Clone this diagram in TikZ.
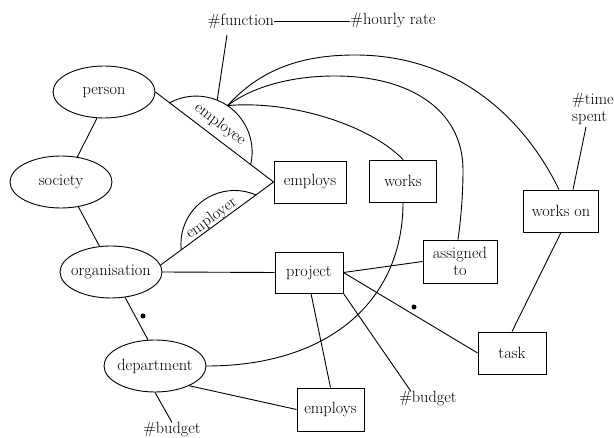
\documentclass[tikz,border=0pt]{standalone}
\usepackage{fontspec}
\usetikzlibrary{shapes.geometric}
\newcommand{\zc}[1]{\makebox[0pt]{#1}}
\begin{document}
\begin{tikzpicture}[x=1pt,y=-1pt,
  every node/.style={font=\fontsize{16.3pt}{17pt}\selectfont},
  ent/.style={ellipse,draw,line width=0.9pt,minimum width=102pt,minimum height=52pt,inner sep=0pt},
  rel/.style={rectangle,draw,line width=0.9pt,minimum height=42pt,inner sep=0pt},
  lbl/.style={inner sep=0pt},
  ln/.style={line width=0.9pt},
  dotm/.style={circle,fill,inner sep=0pt,minimum size=5pt}]
\useasboundingbox (0,0) rectangle (614,438);

% entities
\node[ent] (person) at (104,92) {\zc{person}};
\node[ent] (soc) at (61,182) {\zc{society}};
\node[ent] (org) at (111,272) {\zc{organisation}};
\node[ent] (dept) at (155,366) {\zc{department}};

% relationships
\node[rel,minimum width=72pt] (emp1) at (310,182) {employs};
\node[rel,minimum width=67pt] (works) at (403,181) {works};
\node[rel,minimum width=75pt] (workson) at (561,211) {works on};
\node[rel,minimum width=74pt,minimum height=43pt,align=center] (assigned) at (460,261.5) {assigned\\to};
\node[rel,minimum width=68pt,minimum height=41pt] (proj) at (309,272.5) {project};
\node[rel,minimum width=68pt] (task) at (512,353) {task};
\node[rel,minimum width=67pt,minimum height=43pt] (emp2) at (330.5,409.5) {employs};

% attributes
\node[lbl] (fn) at (241,21) {\#function};
\node[lbl] (hr) at (393,21) {\#hourly rate};
\node[lbl,anchor=west,align=left] (time) at (572,109) {\#time\\spent};
\node[lbl] (bud1) at (172,430) {\#budget};
\node[lbl] (bud2) at (428,399) {\#budget};

% role labels
\node[lbl,rotate=-37] (eelbl) at (220,124.5) {employee};
\node[lbl,rotate=36] (erlbl) at (211.5,218.5) {employer};

% dots
\node[dotm] (dot1) at (143,316) {};
\node[dotm] (dot2) at (414,307) {};

% helper coordinates
\coordinate (hub) at (227.5,105.6);
\coordinate (fnfoot) at (217.2,100.1);
\coordinate (fntop) at (227,35);
\coordinate (timefoot) at (586,127);

% role arcs
\draw[ln] (169.4,102.9) arc[start angle=-118.6, end angle=12.8, radius=55.95];
\draw[ln] (181.2,249.7) arc[start angle=174, end angle=293.8, radius=53.6];

% straight connectors
\draw[ln] (person.255) -- (soc.57);
\draw[ln] (soc.-55) -- (org.114);
\draw[ln] (person.east) -- (emp1.west);
\draw[ln] (org.8) -- (emp1.west);
\draw[ln] (org.east) -- (proj.west);
\draw[ln] (org.-61) -- (dept.105);
\draw[ln] (dept.-30) -- (emp2.west);
\draw[ln] (dept.south) -- (bud1.north);
\draw[ln] ([xshift=2pt]proj.south) -- (emp2.north);
\draw[ln] (proj.south east) -- ([xshift=-17pt]bud2.north);
\draw[ln] (proj.east) -- (assigned.west);
\draw[ln] (proj.east) -- (task.west);
\draw[ln] (task.north) -- (workson.south);
\draw[ln] ([xshift=12pt]workson.north) -- (timefoot);
\draw[ln] (fn.east) -- (hr.west);
\draw[ln] (fnfoot) -- (fntop);

% curved connectors
\draw[ln] (hub) .. controls (260,70) and (300,55) .. (355,55)
  .. controls (450,55) and (520,110) .. ([xshift=-2pt]workson.north);
\draw[ln] (hub) .. controls (255,85) and (295,76) .. (335,76)
  .. controls (410,76) and (463,110) .. (463,170)
  .. controls (463,200) and (460,225) .. ([xshift=-2pt]assigned.north);
\draw[ln] (hub) .. controls (290,100) and (370,125) .. (works.north);
\draw[ln] (dept.east) .. controls (330,366) and (403,300) .. (works.south);
\end{tikzpicture}
\end{document}
